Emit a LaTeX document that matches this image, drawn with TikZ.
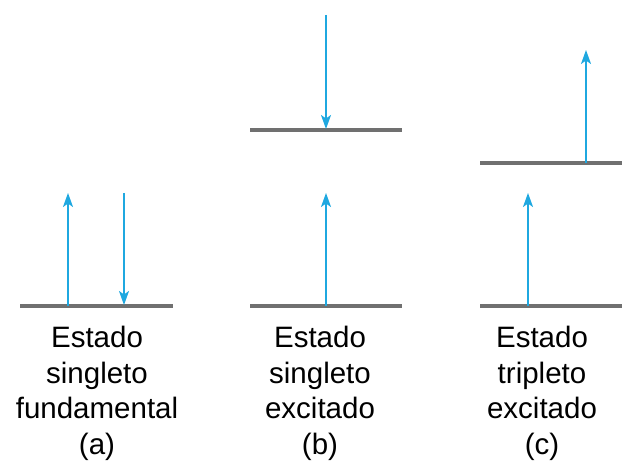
\documentclass[tikz,border=0pt]{standalone}
\usepackage{fontspec}
\setmainfont{Liberation Sans}
\usetikzlibrary{arrows.meta}
\definecolor{spin}{HTML}{1FA8E0}
\definecolor{level}{HTML}{707070}
\tikzset{
  lvl/.style={draw=level, line width=3.2pt},
  spinarrow/.style={draw=spin, line width=1.9pt, -{Stealth[length=14pt,width=10pt,inset=3.5pt]}},
  lbl/.style={align=center, inner sep=0pt, anchor=north, font=\fontsize{29.5}{35.5}\selectfont}
}
\begin{document}
\begin{tikzpicture}[x=1pt,y=-1pt]
\useasboundingbox (0,0) rectangle (622,462);
% (a)
\coordinate (a1) at (20,306);
\coordinate (a2) at (173,306);
\draw[lvl] (a1) -- (a2);
\coordinate (aup0) at (68,306);
\coordinate (aup1) at (68,193);
\coordinate (adn0) at (124,193);
\coordinate (adn1) at (124,305);
\draw[spinarrow] (aup0) -- (aup1);
\draw[spinarrow] (adn0) -- (adn1);
\node[lbl] (la) at (97,326) {Estado\\singleto\\fundamental\\(a)};
% (b)
\coordinate (b1) at (250,306);
\coordinate (b2) at (402,306);
\coordinate (b3) at (250,130);
\coordinate (b4) at (402,130);
\draw[lvl] (b1) -- (b2);
\draw[lvl] (b3) -- (b4);
\coordinate (bup0) at (326,306);
\coordinate (bup1) at (326,193);
\coordinate (bdn0) at (326,15);
\coordinate (bdn1) at (326,129);
\draw[spinarrow] (bup0) -- (bup1);
\draw[spinarrow] (bdn0) -- (bdn1);
\node[lbl] (lb) at (320,326) {Estado\\singleto\\excitado\\(b)};
% (c)
\coordinate (c1) at (480,306);
\coordinate (c2) at (622,306);
\coordinate (c3) at (480,163);
\coordinate (c4) at (622,163);
\draw[lvl] (c1) -- (c2);
\draw[lvl] (c3) -- (c4);
\coordinate (cup0) at (528,306);
\coordinate (cup1) at (528,193);
\coordinate (cup2) at (586,163);
\coordinate (cup3) at (586,50);
\draw[spinarrow] (cup0) -- (cup1);
\draw[spinarrow] (cup2) -- (cup3);
\node[lbl] (lc) at (542,326) {Estado\\tripleto\\excitado\\(c)};
\end{tikzpicture}
\end{document}
